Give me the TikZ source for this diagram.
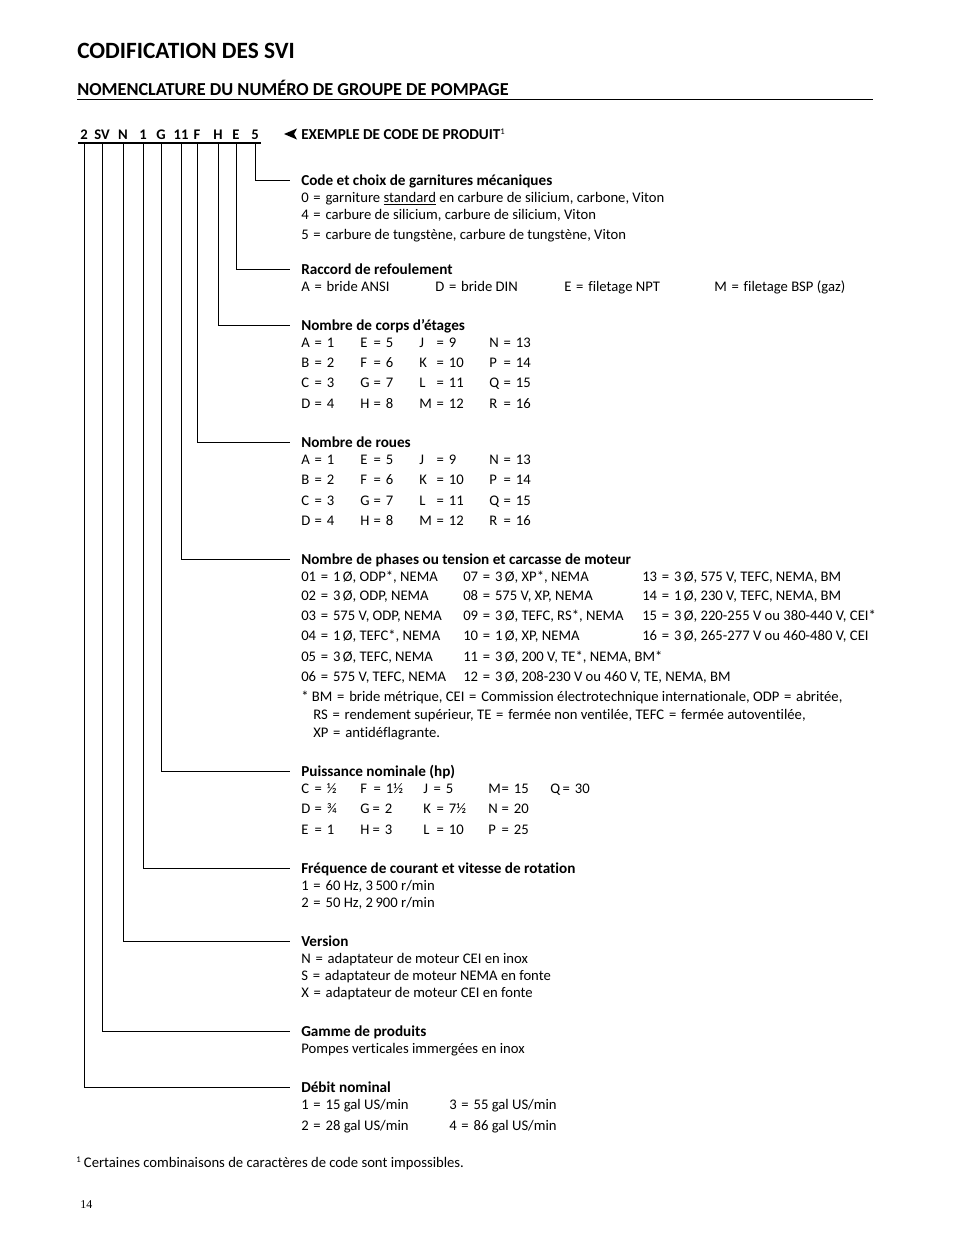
\documentclass[tikz,border=0pt]{standalone}
\usepackage{fontspec}
\setmainfont[Ligatures=NoCommon]{Carlito}
\newfontfamily\pagefont{Liberation Serif}
\usetikzlibrary{positioning}
\newcommand{\eq}{\kern0.1em\relax=\kern0.1em\relax\space}

\begin{document}
\begin{tikzpicture}[x=0.75pt,y=-0.75pt,
    txt/.style={anchor=base west,inner sep=0pt,font=\fontsize{11}{13}\selectfont},
    ttl/.style={txt,font=\fontsize{11.4}{13}\selectfont\bfseries},
    codechar/.style={anchor=base,inner sep=0pt,font=\fontsize{11}{13}\selectfont\bfseries},
    link/.style={line width=0.7pt}]
    \useasboundingbox[fill=white] (0,0) rectangle (954,1235);

    % headings
    \node[anchor=base west,inner sep=0pt,font=\fontsize{17.5}{20}\selectfont\bfseries] (head) at (77,58) {CODIFICATION DES SVI};
    \node[anchor=base west,inner sep=0pt,font=\fontsize{13.7}{15}\selectfont\bfseries] (sub) at (77,95) {NOMENCLATURE DU NUM\'ERO DE GROUPE DE POMPAGE};
    \draw[line width=0.8pt] (77,99.5) -- (873,99.5);

    % code example
    \foreach \x/\c/\n in {84/2/c1, 102/SV/c2, 123/N/c3, 143/1/c4, 161/G/c5, 181/11/c6, 197/F/c7, 218/H/c8, 236/E/c9, 255/5/c10}
      \node[codechar] (\n) at (\x,139) {\c};
    \coordinate (ul) at (0,143);
    \draw[line width=0.8pt] ([xshift=-1.5pt]c1.west |- ul) -- ([xshift=1.5pt]c10.east |- ul);
    \node[ttl] (ex) at (301,139) {EXEMPLE DE CODE DE PRODUIT{\mdseries\fontsize{6.5}{7}\selectfont\raisebox{1.1ex}{1}}};
    \fill (284,134) -- (297,128.5) -- (294,134) -- (297,139.5) -- cycle;

    % garnitures
    \node[ttl] (t1) at (301,185) {Code et choix de garnitures m\'ecaniques};
    \node[txt] (g1) at (301,202) {0 \eq garniture \underline{standard} en carbure de silicium, carbone, Viton};
    \node[txt] (g2) at (301,219) {4 \eq carbure de silicium, carbure de silicium, Viton};
    \node[txt] (g3) at (301,239) {5 \eq carbure de tungst\`ene, carbure de tungst\`ene, Viton};

    % raccord
    \node[ttl] (t2) at (301,274) {Raccord de refoulement};
    \node[txt] (r1) at (301,291) {A \eq bride ANSI};
    \node[txt] (r2) at (435,291) {D \eq bride DIN};
    \node[txt] (r3) at (564,291) {E \eq filetage NPT};
    \node[txt] (r4) at (714,291) {M \eq filetage BSP (gaz)};

    % corps d'etages
    \node[ttl] (t3) at (301,330) {Nombre de corps d'\'etages};
    \foreach \l/\v [count=\k from 0] in {A/1,B/2,C/3,D/4,E/5,F/6,G/7,H/8,J/9,K/10,L/11,M/12,N/13,P/14,Q/15,R/16} {
      \pgfmathtruncatemacro\col{div(\k,4)}
      \pgfmathsetmacro\cx{{301,360,419,489}[\col]}
      \pgfmathsetmacro\dx{{12,12,16,13}[\col]}
      \pgfmathsetmacro\cy{{347,367,387,408}[mod(\k,4)]}
      \node[txt] (el\k) at (\cx,\cy) {\l};
      \node[txt] (ev\k) at (\cx+\dx,\cy) {\eq\v};
    }

    % roues
    \node[ttl] (t4) at (301,447) {Nombre de roues};
    \foreach \l/\v [count=\k from 0] in {A/1,B/2,C/3,D/4,E/5,F/6,G/7,H/8,J/9,K/10,L/11,M/12,N/13,P/14,Q/15,R/16} {
      \pgfmathtruncatemacro\col{div(\k,4)}
      \pgfmathsetmacro\cx{{301,360,419,489}[\col]}
      \pgfmathsetmacro\dx{{12,12,16,13}[\col]}
      \pgfmathsetmacro\cy{{464,484,505,525}[mod(\k,4)]}
      \node[txt] (wl\k) at (\cx,\cy) {\l};
      \node[txt] (wv\k) at (\cx+\dx,\cy) {\eq\v};
    }

    % phases / moteur
    \node[ttl] (t5) at (301,564) {Nombre de phases ou tension et carcasse de moteur};
    \node[txt] (m1) at (301,581) {01 \eq 1\,\O, ODP*, NEMA};
    \node[txt] (m2) at (301,600) {02 \eq 3\,\O, ODP, NEMA};
    \node[txt] (m3) at (301,620) {03 \eq 575 V, ODP, NEMA};
    \node[txt] (m4) at (301,640) {04 \eq 1\,\O, TEFC*, NEMA};
    \node[txt] (m5) at (301,661) {05 \eq 3\,\O, TEFC, NEMA};
    \node[txt] (m6) at (301,681) {06 \eq 575 V, TEFC, NEMA};
    \node[txt] (m7) at (463,581) {07 \eq 3\,\O, XP*, NEMA};
    \node[txt] (m8) at (463,600) {08 \eq 575 V, XP, NEMA};
    \node[txt] (m9) at (463,620) {09 \eq 3\,\O, TEFC, RS*, NEMA};
    \node[txt] (m10) at (463,640) {10 \eq 1\,\O, XP, NEMA};
    \node[txt] (m11) at (463,661) {11 \eq 3\,\O, 200 V, TE*, NEMA, BM*};
    \node[txt] (m12) at (463,681) {12 \eq 3\,\O, 208-230 V ou 460 V, TE, NEMA, BM};
    \node[txt] (m13) at (642,581) {13 \eq 3\,\O, 575 V, TEFC, NEMA, BM};
    \node[txt] (m14) at (642,600) {14 \eq 1\,\O, 230 V, TEFC, NEMA, BM};
    \node[txt] (m15) at (642,620) {15 \eq 3\,\O, 220-255 V ou 380-440 V, CEI*};
    \node[txt] (m16) at (642,640) {16 \eq 3\,\O, 265-277 V ou 460-480 V, CEI};
    \node[txt] (n1) at (301,701) {* BM \eq bride m\'etrique, CEI \eq Commission \'electrotechnique internationale, ODP \eq abrit\'ee,};
    \node[txt] (n2) at (313,719) {RS \eq rendement sup\'erieur, TE \eq ferm\'ee non ventil\'ee, TEFC \eq ferm\'ee autoventil\'ee,};
    \node[txt] (n3) at (313,737) {XP \eq antid\'eflagrante.};

    % puissance
    \node[ttl] (t6) at (301,776) {Puissance nominale (hp)};
    \foreach \l/\v/\cx/\dx/\cy [count=\k] in {C/½/301/12/793, D/¾/301/12/813, E/1/301/12/834,
        F/1½/360/12/793, G/2/360/11/813, H/3/360/11/834,
        J/5/423/9/793, K/7½/423/12/813, L/10/423/12/834,
        M/15/488/12/793, N/20/488/12/813, P/25/488/12/834, Q/30/550/11/793} {
      \node[txt] (pl\k) at (\cx,\cy) {\l};
      \node[txt] (pv\k) at (\cx+\dx,\cy) {\eq\v};
    }

    % frequence
    \node[ttl] (t7) at (301,873) {Fr\'equence de courant et vitesse de rotation};
    \node[txt] (f1) at (301,890) {1 \eq 60 Hz, 3\,500 r/min};
    \node[txt] (f2) at (301,907) {2 \eq 50 Hz, 2\,900 r/min};

    % version
    \node[ttl] (t8) at (301,946) {Version};
    \node[txt] (v1) at (301,963) {N \eq adaptateur de moteur CEI en inox};
    \node[txt] (v2) at (301,980) {S \eq adaptateur de moteur NEMA en fonte};
    \node[txt] (v3) at (301,997) {X \eq adaptateur de moteur CEI en fonte};

    % gamme
    \node[ttl] (t9) at (301,1036) {Gamme de produits};
    \node[txt] (p1) at (301,1053) {Pompes verticales immerg\'ees en inox};

    % debit
    \node[ttl] (t10) at (301,1092) {D\'ebit nominal};
    \node[txt] (d1) at (301,1109) {1 \eq 15 gal US/min};
    \node[txt] (d2) at (301,1130) {2 \eq 28 gal US/min};
    \node[txt] (d3) at (449,1109) {3 \eq 55 gal US/min};
    \node[txt] (d4) at (449,1130) {4 \eq 86 gal US/min};

    % links
    \foreach \c/\t in {c10/t1, c9/t2, c8/t3, c7/t4, c6/t5, c5/t6, c4/t7, c3/t8, c2/t9, c1/t10}
      \draw[link] (\c |- ul) |- ([shift={(-11,-5)}]\t.base west);

    % footnote, page
    \node[txt] (foot) at (76,1167) {{\fontsize{6.5}{7}\selectfont\raisebox{1.1ex}{1}} Certaines combinaisons de caract\`eres de code sont impossibles.};
    \node[anchor=base west,inner sep=0pt,font=\pagefont\fontsize{9}{10}\selectfont] (page) at (80,1208) {14};
\end{tikzpicture}
\end{document}
